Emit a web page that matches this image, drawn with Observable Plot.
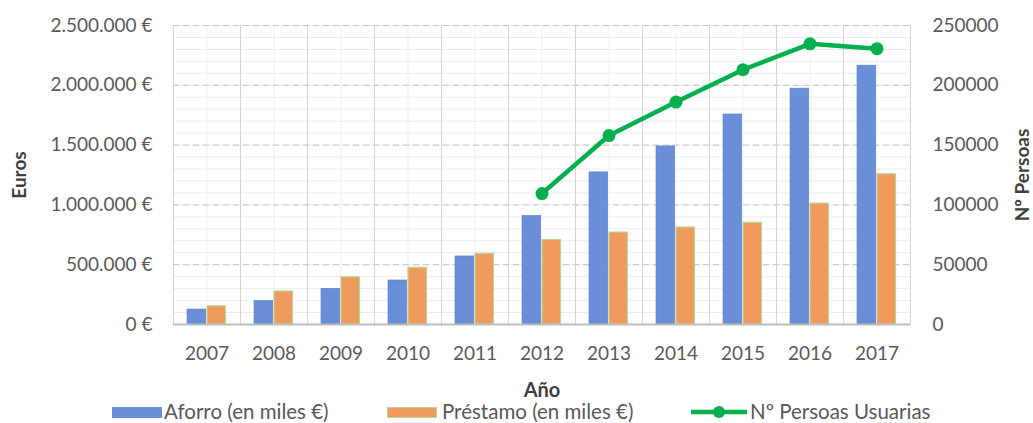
<!DOCTYPE html>
<html>
<head>
<meta charset="utf-8">
<script src="https://cdn.jsdelivr.net/npm/d3@7"></script>
<script src="https://cdn.jsdelivr.net/npm/@observablehq/plot@0.6"></script>
<style>
  body { margin: 0; background: #fff; font-family: Lato, sans-serif; }
  #wrap { width: 1033px; }
  #legend { position: relative; width: 1033px; height: 23px; color: #595959; font-size: 20.5px; }
  #legend .sw { position: absolute; top: 7px; height: 11px; }
  #legend .lb { position: absolute; top: 0; line-height: 23px; white-space: nowrap; }
</style>
</head>
<body>
<div id="wrap"></div>
<script>
const years = ["2007","2008","2009","2010","2011","2012","2013","2014","2015","2016","2017"];
const aforro = [125000, 195000, 298000, 368000, 569000, 908000, 1272000, 1489000, 1756000, 1972000, 2164000];
const prestamo = [152000, 276000, 395000, 474000, 591000, 706000, 769000, 811000, 850000, 1011000, 1256000];
const persoas = [null, null, null, null, null, 109500, 158000, 186000, 213000, 234700, 230600];
const euroTicks = [0, 500000, 1000000, 1500000, 2000000, 2500000];
const personTicks = [0, 50000, 100000, 150000, 200000, 250000];
const seriesNames = ["Aforro (en miles €)", "Préstamo (en miles €)", "Nº Persoas Usuarias"];

const blue = "#6a8fd8", orange = "#f09a5e", green = "#00b04f";
const ratio = 10; // 250000 persoas ↔ 2.500.000 €

const rows = years.map((y, i) => ({year: y, aforro: aforro[i], prestamo: prestamo[i], persoas: persoas[i]}));
const lineRows = rows.filter(d => d.persoas != null);

const fmtEuro = d => d3.format(",")(d).replace(/,/g, ".") + " €";
const W = 1033, ML = 173, MR = 123;
const bw = (W - ML - MR) / years.length;

const chart = Plot.plot({
  width: W,
  height: 400,
  marginTop: 25,
  marginBottom: 76,
  marginLeft: ML,
  marginRight: MR,
  style: {fontFamily: "Lato, sans-serif", fontSize: "19px", color: "#595959", background: "#fff"},
  x: {type: "band", domain: years, padding: 0, axis: null},
  y: {domain: [0, 2500000], axis: null},
  marks: [
    Plot.gridY(d3.range(0, 2500001, 100000), {stroke: "#ececec", strokeOpacity: 1}),
    Plot.gridX({stroke: "#efefef", strokeOpacity: 1}),
    Plot.ruleX(years, {x: d => d, dx: -bw / 2, stroke: "#d6d6d6"}),
    Plot.frame({anchor: "right", stroke: "#d6d6d6"}),
    Plot.gridY(euroTicks.slice(1), {stroke: "#c6c6c6", strokeOpacity: 1, strokeDasharray: "6,4"}),
    Plot.barY(rows, {x: "year", y: "aforro", fill: blue, stroke: "#5a7fc8", strokeWidth: 0.6, insetLeft: 14, insetRight: bw - 32.7}),
    Plot.barY(rows, {x: "year", y: "prestamo", fill: orange, stroke: "#b5d89a", strokeWidth: 1.2, insetLeft: 34, insetRight: bw - 52.5}),
    Plot.ruleY([0], {stroke: "#bcbcbc", strokeWidth: 2}),
    Plot.line(lineRows, {x: "year", y: d => d.persoas * ratio, stroke: green, strokeWidth: 4.5}),
    Plot.dot(lineRows, {x: "year", y: d => d.persoas * ratio, fill: green, r: 6.5}),
    Plot.axisX({tickSize: 0, tickPadding: 22, label: null}),
    Plot.axisY(euroTicks, {anchor: "left", tickSize: 0, tickPadding: 21, tickFormat: fmtEuro, label: null}),
    Plot.axisY(personTicks, {anchor: "right", y: d => d * ratio, tickFormat: d => String(d), tickSize: 0, tickPadding: 22, label: null}),
    Plot.text(["Año"], {frameAnchor: "bottom", lineAnchor: "middle", dy: 66, fontWeight: "bold", fill: "#404040", fontSize: 20}),
    Plot.text(["Euros"], {frameAnchor: "left", textAnchor: "middle", lineAnchor: "middle", dx: -154, rotate: -90, fontWeight: "bold", fill: "#404040", fontSize: 19}),
    Plot.text(["Nº Persoas"], {frameAnchor: "right", textAnchor: "middle", lineAnchor: "middle", dx: 112, rotate: -90, fontWeight: "bold", fill: "#404040", fontSize: 19})
  ]
});
document.getElementById("wrap").appendChild(chart);

const leg = document.createElement("div");
leg.id = "legend";
leg.innerHTML = `
  <div class="sw" style="left:112px;width:50px;background:${blue}"></div>
  <div class="lb" style="left:164px">${seriesNames[0]}</div>
  <div class="sw" style="left:387px;width:50px;background:${orange};box-shadow:0 0 0 1px #b5d89a inset"></div>
  <div class="lb" style="left:442px">${seriesNames[1]}</div>
  <svg style="position:absolute;left:691px;top:0" width="56" height="23"><line x1="0" x2="56" y1="12" y2="12" stroke="${green}" stroke-width="4.5"/><circle cx="28" cy="12" r="6" fill="${green}"/></svg>
  <div class="lb" style="left:750px">${seriesNames[2]}</div>`;
document.getElementById("wrap").appendChild(leg);
</script>
</body>
</html>
